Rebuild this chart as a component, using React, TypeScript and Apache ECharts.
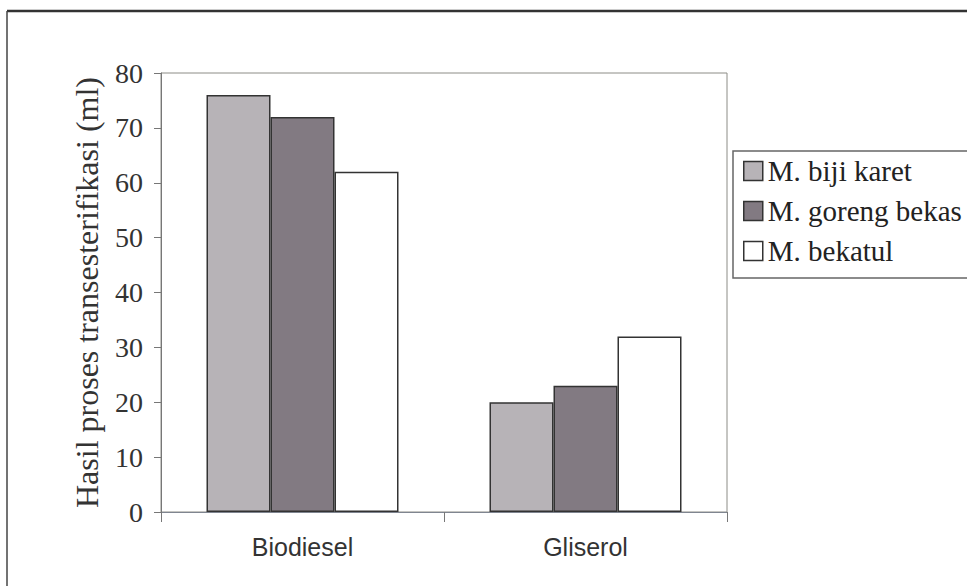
import React, { useEffect, useRef } from "react";
import * as echarts from "echarts";

const categories = ["Biodiesel", "Gliserol"];
const seriesNames = ["M. biji karet", "M. goreng bekas", "M. bekatul"];
const bijiKaret = [76, 20];
const gorengBekas = [72, 23];
const bekatul = [62, 32];
const yMin = 0;
const yMax = 80;
const yInterval = 10;
const yTitle = "Hasil proses transesterifikasi (ml)";

const seriesData = [bijiKaret, gorengBekas, bekatul];
const seriesColors = ["#b7b3b7", "#827a82", "#ffffff"];

export default function App() {
  const ref = useRef<HTMLDivElement>(null);
  useEffect(() => {
    if (!ref.current) return;
    const chart = echarts.init(ref.current, null, { renderer: "svg" });
    const serif = "'Liberation Serif', 'Times New Roman', serif";
    const sans = "'Liberation Sans', Arial, sans-serif";
    chart.setOption({
      animation: false,
      backgroundColor: "#ffffff",
      grid: {
        left: 161,
        right: 240,
        top: 73,
        bottom: 74,
        show: true,
        borderColor: "#8c8c86",
        borderWidth: 1,
        backgroundColor: "transparent",
      },
      legend: {
        orient: "vertical",
        left: 733,
        top: 151,
        padding: [5, 80, 12, 10],
        itemGap: 10,
        itemWidth: 19,
        itemHeight: 19,
        icon: "rect",
        borderColor: "#666",
        borderWidth: 1.5,
        data: seriesNames,
        itemStyle: { borderColor: "#333", borderWidth: 1.5 },
        textStyle: {
          fontFamily: serif,
          fontSize: 29,
          lineHeight: 30,
          color: "#222",
        },
      },
      xAxis: {
        type: "category",
        data: categories,
        axisLine: { lineStyle: { color: "#7f8590", width: 1 } },
        axisTick: { show: true, length: 10, lineStyle: { color: "#777" } },
        axisLabel: {
          fontFamily: sans,
          fontSize: 25,
          color: "#333",
          margin: 22,
        },
      },
      yAxis: {
        type: "value",
        min: yMin,
        max: yMax,
        interval: yInterval,
        name: yTitle,
        nameLocation: "middle",
        nameGap: 58,
        nameTextStyle: {
          fontFamily: serif,
          fontSize: 32,
          color: "#333",
        },
        axisLine: { show: true, lineStyle: { color: "#777", width: 1 } },
        axisTick: { show: true, length: 7, lineStyle: { color: "#777" } },
        splitLine: { show: false },
        axisLabel: {
          fontFamily: serif,
          fontSize: 28,
          color: "#333",
          margin: 18,
        },
      },
      series: seriesNames.map((name, i) => ({
        name,
        type: "bar",
        data: seriesData[i],
        barWidth: 64,
        barGap: "0%",
        itemStyle: {
          color: seriesColors[i],
          borderColor: "#333",
          borderWidth: 1.5,
        },
      })),
      graphic: [
        {
          type: "line",
          shape: { x1: 7, y1: 11, x2: 967, y2: 11 },
          style: { stroke: "#333", lineWidth: 2.5 },
        },
        {
          type: "line",
          shape: { x1: 7, y1: 11, x2: 7, y2: 586 },
          style: { stroke: "#444", lineWidth: 1.5 },
        },
      ],
    });
    return () => chart.dispose();
  }, []);
  return (
    <div
      ref={ref}
      style={{ position: "fixed", left: 0, top: 0, width: 967, height: 586 }}
    />
  );
}
